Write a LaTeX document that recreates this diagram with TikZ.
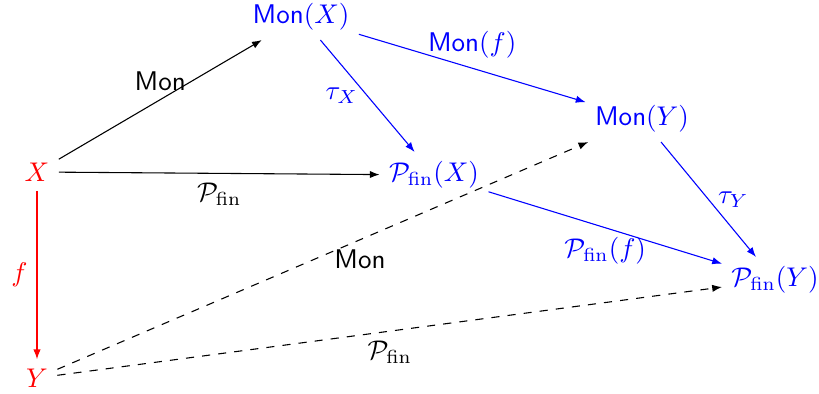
\documentclass[tikz,border=0pt]{standalone}
\usetikzlibrary{arrows.meta}
\begin{document}
\begin{tikzpicture}[x=0.37pt,y=-0.37pt,
  arr/.style={-{Latex[length=3.6pt,width=2.7pt]}},
  bl/.style={blue},
  rd/.style={red}]
\useasboundingbox (0,0) rectangle (819,394);
\node[rd] (X) at (37,172) {$X$};
\node[rd] (Y) at (37,378) {$Y$};
\node[bl] (MX) at (301,17) {$\mathsf{Mon}(X)$};
\node[bl] (PX) at (434,175) {$\mathcal{P}_{\mathrm{fin}}(X)$};
\node[bl] (MY) at (642,119) {$\mathsf{Mon}(Y)$};
\node[bl] (PY) at (775,280) {$\mathcal{P}_{\mathrm{fin}}(Y)$};
\draw[arr] (X) -- node[pos=0.5,above] {$\mathsf{Mon}$} (MX);
\draw[arr] (X) -- node[pos=0.5,below] {$\mathcal{P}_{\mathrm{fin}}$} (PX);
\draw[arr,rd] (X) -- node[left] {$f$} (Y);
\draw[arr,bl] (MX) -- node[pos=0.5,left] {$\tau_X$} (PX);
\draw[arr,bl] (MX) -- node[pos=0.5,above] {$\mathsf{Mon}(f)$} (MY);
\draw[arr,bl] (PX) -- node[pos=0.5,below] {$\mathcal{P}_{\mathrm{fin}}(f)$} (PY);
\draw[arr,bl] (MY) -- node[pos=0.5,right] {$\tau_Y$} (PY);
\draw[arr,dashed] (Y) -- node[pos=0.57,below] {$\mathsf{Mon}$} (MY);
\draw[arr,dashed] (Y) -- node[pos=0.5,below] {$\mathcal{P}_{\mathrm{fin}}$} (PY);
\end{tikzpicture}
\end{document}
